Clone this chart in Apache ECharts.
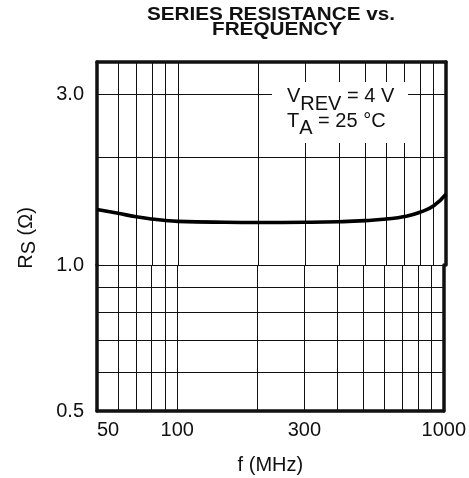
<!DOCTYPE html>
<html><head><meta charset="utf-8">
<script src="https://cdn.jsdelivr.net/npm/echarts@6/dist/echarts.min.js"></script>
<style>html,body{margin:0;padding:0;background:#fff}#c{width:469px;height:478px}</style>
</head><body><div id="c"></div>
<script>
// ---- data ----
const freqMHz = [50, 60, 70, 80, 90, 100, 150, 200, 300, 400, 500, 600, 700, 800, 900, 1000];
const rsOhm   = [1.43, 1.395, 1.365, 1.345, 1.332, 1.325, 1.317, 1.315, 1.317, 1.322, 1.331, 1.345, 1.366, 1.405, 1.465, 1.578];
const xTickLabels = [50, 100, 300, 1000];
const xGridValues = [60, 70, 80, 90, 100, 200, 300, 400, 500, 600, 700, 800, 900];
const yUpperTickLabels = [3.0];
const yLowerTickLabels = [0.5, 1.0];
const yUpperGridValues = [1.0, 2.0, 3.0];
const yLowerGridValues = [0.6, 0.7, 0.8, 0.9];
const xRange = [50, 1000];
const yUpperRange = [1.0, 3.7];
const yLowerRange = [0.5, 1.0];

const FONT = '"Liberation Sans", Arial, sans-serif';
const INK = '#111';
const FRAME = 3.5;

const chart = echarts.init(document.getElementById('c'), null, {renderer: 'canvas'});

const gridLine = {color: INK, width: 1, type: 'solid'};
const frameLine = {color: INK, width: FRAME, type: 'solid'};

function gridMarks(yVals) {
  return {
    silent: true, symbol: 'none', animation: false,
    label: {show: false},
    lineStyle: gridLine,
    data: xGridValues.map(v => ({xAxis: v}))
      .concat(yVals.map(v => ({yAxis: v})))
  };
}

const labelStyle = {fontFamily: FONT, fontSize: 20, color: INK};

function frameAxisY(gridIndex, range, position, labels) {
  return {
    type: 'log', gridIndex: gridIndex, min: range[0], max: range[1], position: position,
    axisLine: {show: true, onZero: false, lineStyle: frameLine},
    axisTick: {show: false, customValues: labels || []},
    axisLabel: labels ? Object.assign({show: true, margin: 13, customValues: labels,
      formatter: v => Number(v).toFixed(1)}, labelStyle) : {show: false},
    splitLine: {show: false}, minorTick: {show: false}
  };
}

const option = {
  animation: false,
  backgroundColor: '#fff',
  grid: [
    {left: 97, right: 23, top: 62, height: 203, containLabel: false},
    {left: 97, right: 23, top: 265, height: 146, containLabel: false}
  ],
  xAxis: [
    {type: 'log', gridIndex: 0, min: xRange[0], max: xRange[1], position: 'top',
     axisLine: {show: true, onZero: false, lineStyle: frameLine},
     axisTick: {show: false}, axisLabel: {show: false}, splitLine: {show: false}, minorTick: {show: false}},
    {type: 'log', gridIndex: 1, min: xRange[0], max: xRange[1], position: 'bottom',
     name: 'f (MHz)', nameLocation: 'middle', nameGap: 44,
     nameTextStyle: labelStyle,
     axisLine: {show: true, onZero: false, lineStyle: frameLine},
     axisTick: {show: false, customValues: xTickLabels},
     axisLabel: Object.assign({show: true, margin: 9, customValues: xTickLabels,
       alignMinLabel: 'left', formatter: v => String(Math.round(v))}, labelStyle),
     splitLine: {show: false}}
  ],
  yAxis: [
    frameAxisY(0, yUpperRange, 'left', yUpperTickLabels),
    frameAxisY(1, yLowerRange, 'left', yLowerTickLabels),
    frameAxisY(0, yUpperRange, 'right', null),
    frameAxisY(1, yLowerRange, 'right', null)
  ],
  series: [
    {type: 'line', xAxisIndex: 0, yAxisIndex: 0, z: 5,
     data: freqMHz.map((f, i) => [f, rsOhm[i]]),
     smooth: 0.5, showSymbol: false, symbol: 'none',
     lineStyle: {color: '#000', width: 3.6, cap: 'butt', join: 'round'},
     markLine: gridMarks(yUpperGridValues)},
    {type: 'line', xAxisIndex: 1, yAxisIndex: 1, data: [],
     showSymbol: false, symbol: 'none',
     markLine: gridMarks(yLowerGridValues)}
  ],
  graphic: [
    {type: 'text', x: 271, y: 15.5, z: 100, scaleX: 1.15,
     style: {text: 'SERIES RESISTANCE vs.', font: 'bold 18px ' + FONT, fill: INK,
       textAlign: 'center', textVerticalAlign: 'middle'}},
    {type: 'text', x: 277, y: 30, z: 100, scaleX: 1.15,
     style: {text: 'FREQUENCY', font: 'bold 18px ' + FONT, fill: INK,
       textAlign: 'center', textVerticalAlign: 'middle'}},
    {type: 'rect', z: 100, shape: {x: 272, y: 82, width: 136, height: 61}, style: {fill: '#fff'}},
    {type: 'text', x: 287, y: 86.5, z: 101,
     style: {text: '{n|V}{s|REV}{n| = 4 V}', fill: INK, textAlign: 'left', textVerticalAlign: 'top',
       rich: {
         n: {fontFamily: FONT, fontSize: 20, lineHeight: 20, verticalAlign: 'top', color: INK},
         s: {fontFamily: FONT, fontSize: 20, lineHeight: 20, verticalAlign: 'top', padding: [8, 0, 0, 0], color: INK}
       }}},
    {type: 'text', x: 287, y: 111.5, z: 101,
     style: {text: '{n|T}{s|A}{n| = 25 °C}', fill: INK, textAlign: 'left', textVerticalAlign: 'top',
       rich: {
         n: {fontFamily: FONT, fontSize: 20, lineHeight: 20, verticalAlign: 'top', color: INK},
         s: {fontFamily: FONT, fontSize: 20, lineHeight: 20, verticalAlign: 'top', padding: [7, 0, 0, 0], color: INK}
       }}},
    {type: 'text', x: 26, y: 238, z: 100, rotation: Math.PI / 2,
     style: {text: '{n|R}{s|S}{n| (Ω)}', fill: INK, textAlign: 'center', textVerticalAlign: 'middle',
       rich: {
         n: {fontFamily: FONT, fontSize: 20, lineHeight: 20, verticalAlign: 'top', color: INK},
         s: {fontFamily: FONT, fontSize: 20, lineHeight: 20, verticalAlign: 'top', padding: [3, 0, 0, 0], color: INK}
       }}}
  ]
};
chart.setOption(option);
</script>
</body></html>
